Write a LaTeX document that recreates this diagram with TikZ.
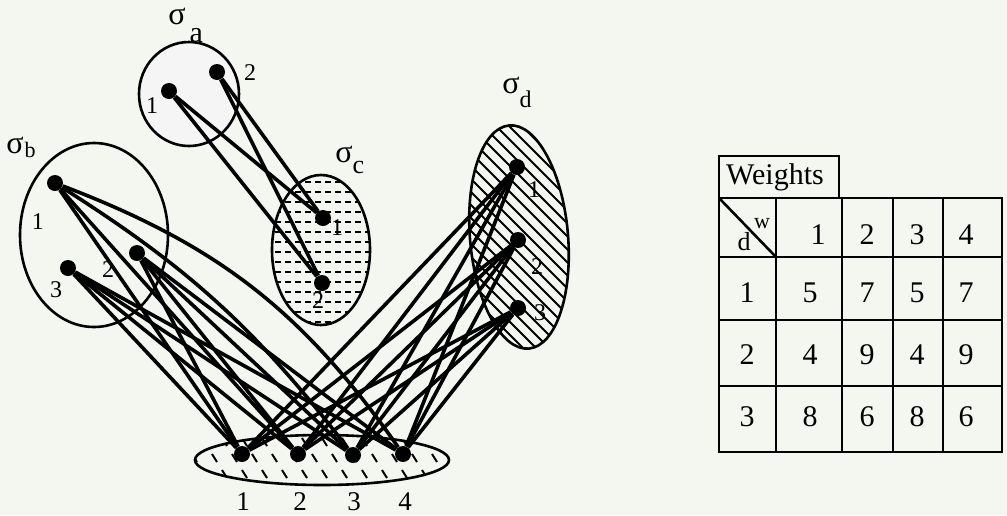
\documentclass[tikz,border=0pt]{standalone}
\usepackage{fontspec}
\setmainfont{Liberation Serif}
\usepackage{tikz}
\usetikzlibrary{positioning}

\definecolor{paper}{RGB}{244,246,240}

\begin{document}
\begin{tikzpicture}[
    x=0.5pt, y=-0.5pt,
    dot/.style={circle, fill=black, inner sep=0pt, minimum size=8pt},
    edge/.style={line width=1.8pt},
    set/.style={line width=1.3pt},
    hatch/.style={line width=0.9pt},
    tab/.style={line width=1.3pt},
    num/.style={font=\fontsize{12}{12}\selectfont, inner sep=0pt},
    sig/.style={font=\fontsize{16}{16}\selectfont, inner sep=0pt, anchor=base west},
    cell/.style={font=\fontsize{15}{15}\selectfont, inner sep=0pt},
  ]

  \fill[paper] (0,0) rectangle (1007,515);
  \useasboundingbox (0,0) rectangle (1007,515);

  % sets and their fillings
  \fill[black!4] (189,94) ellipse [x radius=25pt, y radius=26pt];
  \begin{scope}
    \clip (321,250) ellipse [x radius=24.5pt, y radius=37.5pt];
    \foreach \yy in {172,182,...,330}
      \draw[hatch, line width=1.3pt, dash pattern=on 3pt off 2pt] (265,\yy) -- (380,\yy);
  \end{scope}
  \begin{scope}
    \clip[rotate around={5:(519,237)}] (519,237) ellipse [x radius=24.5pt, y radius=56pt];
    \foreach \cc in {110,123,...,460}
      \draw[hatch] (\cc+100,100) -- (\cc+370,370);
  \end{scope}
  \begin{scope}
    \clip (322,460) ellipse [x radius=63.5pt, y radius=12.5pt];
    \foreach \yy [count=\r] in {438,454,470,486}
      \foreach \xx in {172,192,...,470}
        \draw[hatch, line width=1pt] (\xx+\r*10,\yy) -- ++(5,8);
  \end{scope}

  \draw[set] (189,94) ellipse [x radius=25pt, y radius=26pt];
  \draw[set] (94,235) ellipse [x radius=37pt, y radius=46pt];
  \draw[set] (321,250) ellipse [x radius=24.5pt, y radius=37.5pt];
  \draw[set, rotate around={5:(519,237)}] (519,237) ellipse [x radius=24.5pt, y radius=56pt];
  \draw[set] (322,460) ellipse [x radius=63.5pt, y radius=12.5pt];

  % elements
  \node[dot] (a1) at (169,91) {};
  \node[dot] (a2) at (217,72) {};
  \node[dot] (b1) at (55,183) {};
  \node[dot] (b2) at (137,253) {};
  \node[dot] (b3) at (68,268) {};
  \node[dot] (c1) at (323,218) {};
  \node[dot] (c2) at (322,283) {};
  \node[dot] (d1) at (517,167) {};
  \node[dot] (d2) at (518,240) {};
  \node[dot] (d3) at (518,308) {};
  \node[dot] (w1) at (242,454) {};
  \node[dot] (w2) at (298,454) {};
  \node[dot] (w3) at (353,455) {};
  \node[dot] (w4) at (403,454) {};

  % links
  \foreach \s in {a1,a2}
    \foreach \t in {c1,c2}
      \draw[edge] (\s) -- (\t);
  \foreach \s in {b2,b3,d1,d2,d3}
    \foreach \t in {w1,w2,w3,w4}
      \draw[edge] (\s) -- (\t);
  \draw[edge] (b1) -- (w1);
  \draw[edge] (b1) -- (w2);
  \draw[edge] (b1) to[bend left=10] (w3);
  \draw[edge] (b1) to[bend left=17] (w4);

  % set names
  \node[sig] (siga) at (168,24) {σ\hspace{2pt}\raisebox{-9pt}{\fontsize{15}{15}\selectfont a}};
  \node[sig] (sigb) at (6,153) {σ\kern0.5pt\raisebox{-2pt}{\fontsize{11}{11}\selectfont b}};
  \node[sig] (sigc) at (335,162) {σ\raisebox{-5.5pt}{\fontsize{13}{13}\selectfont c}};
  \node[sig] (sigd) at (502,93) {σ\raisebox{-7pt}{\fontsize{12}{12}\selectfont d}};

  % element numbers
  \node[num] (a1n) at (152,106) {1};
  \node[num] (a2n) at (250,73) {2};
  \node[num] (b1n) at (38,222) {1};
  \node[num] (b2n) at (108,270) {2};
  \node[num] (b3n) at (56,290) {3};
  \node[num] (c1n) at (337,228) {1};
  \node[num] (c2n) at (318,301) {2};
  \node[num] (d1n) at (534,190) {1};
  \node[num] (d2n) at (537,267) {2};
  \node[num] (d3n) at (540,313) {3};
  \foreach \i/\xx in {1/243,2/300,3/354,4/405}
    \node[num, font=\fontsize{13.5}{13.5}\selectfont] (w\i n) at (\xx,502) {\i};

  % weight table
  \draw[tab] (719,156) rectangle (839,198);
  \node[cell] (wts) at (775,177) {Weights};
  \draw[tab] (719,198) rectangle (1002,452);
  \foreach \xx in {776,842,893,943}
    \draw[tab] (\xx,198) -- (\xx,452);
  \foreach \yy in {257,320,386}
    \draw[tab] (719,\yy) -- (1002,\yy);
  \draw[tab] (719,198) -- (776,257);
  \node[inner sep=0pt, font=\fontsize{11}{11}\selectfont] (hw) at (762,224) {w};
  \node[inner sep=0pt, font=\fontsize{13}{13}\selectfont] (hd) at (744,242) {d};
  \foreach \i/\xx in {1/818,2/867,3/917,4/966}
    \node[cell] (h\i) at (\xx,235) {\i};
  \foreach \r/\yy/\va/\vb/\vc/\vd in {1/293/5/7/5/7, 2/355/4/9/4/9, 3/417/8/6/8/6} {
    \node[cell] (r\r) at (747,\yy) {\r};
    \node[cell] (v\r1) at (810,\yy) {\va};
    \node[cell] (v\r2) at (867,\yy) {\vb};
    \node[cell] (v\r3) at (917,\yy) {\vc};
    \node[cell] (v\r4) at (966,\yy) {\vd};
  }

\end{tikzpicture}
\end{document}
